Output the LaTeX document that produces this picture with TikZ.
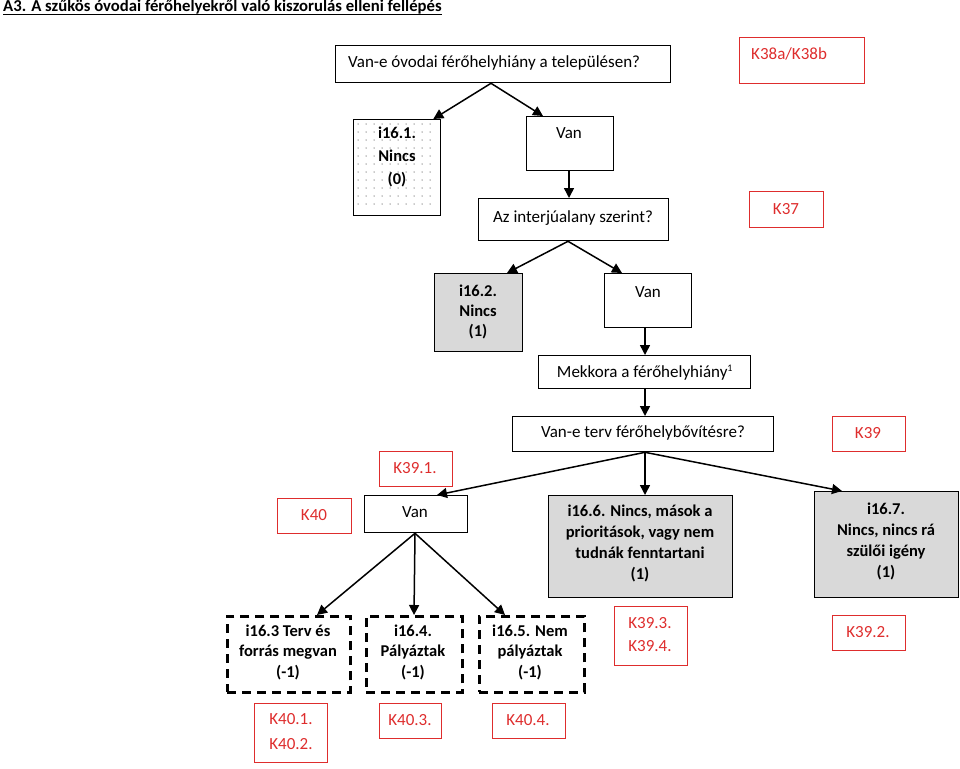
\documentclass[tikz,border=0pt]{standalone}
\usepackage{fontspec}
\setmainfont{Carlito}
\usetikzlibrary{arrows.meta,calc}
\definecolor{kred}{RGB}{222,45,45}
\definecolor{kgray}{RGB}{217,217,217}
\tikzset{
  box/.style={draw=black, line width=1.3pt, inner sep=0pt, anchor=north west},
  gbox/.style={box, fill=kgray},
  rbox/.style={draw=kred, line width=1.4pt, inner sep=0pt, anchor=north west},
  dbox/.style={draw=black, line width=2.6pt, dash pattern=on 9pt off 6pt, inner sep=0pt, anchor=north west},
  txt/.style={inner sep=0pt, align=center, font=\fontsize{17}{21}\selectfont},
  btxt/.style={txt, font=\fontsize{16.5}{21}\selectfont\bfseries},
  rtxt/.style={txt, text=kred},
  arr/.style={line width=1.5pt, -{Triangle[length=10pt,width=10pt]}}
}
\begin{document}
\begin{tikzpicture}[x=1pt,y=-1pt]
\useasboundingbox (0,0) rectangle (960,768);
% title
\node[inner sep=0pt, anchor=base west, font=\fontsize{16.7}{19}\selectfont\bfseries] (title) at (3,12) {A3. A szűkös óvodai férőhelyekről való kiszorulás elleni fellépés};
\draw[line width=1.1pt] ($(title.base west)+(0,2.5)$) -- ($(title.base east)+(0,2.5)$);

% boxes
\node[box, minimum width=335pt, minimum height=37pt] (q1) at (335,45) {};
\node[txt, anchor=west] (q1t) at (348,63) {Van-e óvodai férőhelyhiány a településen?};
\node[rbox, minimum width=125pt, minimum height=46pt] (k38) at (739,37) {};
\node[rtxt, anchor=west] (k38t) at (751,54) {K38a/K38b};

\node[box, minimum width=87pt, minimum height=96pt] (i161) at (353,119) {};
\foreach \xx in {358,366,...,436} {\foreach \yy in {124,132,...,210} {\fill[gray!85] (\xx,\yy) circle (0.75pt);}}
\node[btxt, font=\fontsize{16.5}{23}\selectfont\bfseries] (i161t) at (397,157) {i16.1.\\Nincs\\(0)};

\node[box, minimum width=87pt, minimum height=54pt] (van1) at (526,116) {};
\node[txt] (van1t) at (569,133) {Van};
\node[box, minimum width=190pt, minimum height=42pt] (q2) at (478,198) {};
\node[txt] (q2t) at (573,218) {Az interjúalany szerint?};
\node[rbox, minimum width=74pt, minimum height=36pt] (k37) at (749,191) {};
\node[rtxt] (k37t) at (786,209) {K37};

\node[gbox, minimum width=88pt, minimum height=78pt] (i162) at (434,273) {};
\node[btxt, font=\fontsize{16.5}{20}\selectfont\bfseries] (i162t) at (478,312) {i16.2.\\Nincs\\(1)};
\node[box, minimum width=87pt, minimum height=54pt] (van2) at (604,273) {};
\node[txt] (van2t) at (648,292) {Van};
\node[box, minimum width=212pt, minimum height=33pt] (mek) at (538,355) {};
\node[txt] (mekt) at (645,373) {Mekkora a férőhelyhiány\textsuperscript{\fontsize{10}{10}\selectfont 1}};

\node[box, minimum width=261pt, minimum height=35pt] (q3) at (512,416) {};
\node[txt] (q3t) at (643,433) {Van-e terv férőhelybővítésre?};
\node[rbox, minimum width=73pt, minimum height=35pt] (k39) at (832,416) {};
\node[rtxt] (k39t) at (868,433) {K39};
\node[rbox, minimum width=73pt, minimum height=35pt] (k391) at (379,451) {};
\node[rtxt] (k391t) at (415,468) {K39.1.};
\node[rbox, minimum width=74pt, minimum height=35pt] (k40) at (277,498) {};
\node[rtxt] (k40t) at (314,515) {K40};
\node[box, minimum width=103pt, minimum height=37pt] (van3) at (364,495) {};
\node[txt] (van3t) at (415,512) {Van};
\node[gbox, minimum width=184pt, minimum height=102pt] (i166) at (548,495) {};
\node[btxt] (i166t) at (640,543) {i16.6. Nincs, mások a\\prioritások, vagy nem\\tudnák fenntartani\\(1)};
\node[gbox, minimum width=144pt, minimum height=106pt] (i167) at (814,491) {};
\node[btxt] (i167t) at (886,541) {i16.7.\\Nincs, nincs rá\\szülői igény\\(1)};

\node[dbox, minimum width=123pt, minimum height=76pt] (i163) at (226,615) {};
\node[btxt, font=\fontsize{16.5}{20.5}\selectfont\bfseries] (i163t) at (288,652) {i16.3 Terv és\\forrás megvan\\(-1)};
\node[dbox, minimum width=96pt, minimum height=76pt] (i164) at (365,615) {};
\node[btxt, font=\fontsize{16.5}{20.5}\selectfont\bfseries] (i164t) at (413,652) {i16.4.\\Pályáztak\\(-1)};
\node[dbox, minimum width=105pt, minimum height=76pt] (i165) at (478,615) {};
\node[btxt, font=\fontsize{16.5}{20.5}\selectfont\bfseries] (i165t) at (530,652) {i16.5. Nem\\pályáztak\\(-1)};

\node[rbox, minimum width=73pt, minimum height=59pt] (k401) at (254,703) {};
\node[rtxt, font=\fontsize{17}{25}\selectfont] (k401t) at (291,732) {K40.1.\\K40.2.};
\node[rbox, minimum width=62pt, minimum height=35pt] (k403) at (379,703) {};
\node[rtxt] (k403t) at (410,720) {K40.3.};
\node[rbox, minimum width=73pt, minimum height=35pt] (k404) at (492,703) {};
\node[rtxt] (k404t) at (528,720) {K40.4.};
\node[rbox, minimum width=73pt, minimum height=59pt] (k393) at (614,606) {};
\node[rtxt, font=\fontsize{17}{23}\selectfont] (k393t) at (650,635) {K39.3.\\K39.4.};
\node[rbox, minimum width=73pt, minimum height=35pt] (k392) at (832,615) {};
\node[rtxt] (k392t) at (868,632) {K39.2.};

% connectors
\coordinate (a1) at ($(q1.south west)+(156,0)$);
\draw[arr] (a1) -- ($(i161.north east)+(-8,0)$);
\draw[arr] (a1) -- ($(van1.north west)+(17,0)$);
\draw[arr] ($(van1.south west)+(43,0)$) -- ($(q2.north west)+(91,0)$);
\coordinate (a2) at ($(q2.south west)+(90,0)$);
\draw[arr] (a2) -- ($(i162.north west)+(73,0)$);
\draw[arr] (a2) -- ($(van2.north west)+(18,0)$);
\draw[arr] ($(van2.south west)+(41,0)$) -- ($(mek.north west)+(107,0)$);
\draw[arr] ($(mek.south west)+(107,0)$) -- ($(q3.north west)+(133,0)$);
\coordinate (a3) at ($(q3.south west)+(133,0)$);
\draw[arr] (a3) -- ($(van3.north west)+(73,0)$);
\draw[arr] (a3) -- ($(i166.north west)+(97,0)$);
\draw[arr] (a3) -- ($(i167.north west)+(28,0)$);
\coordinate (a4) at ($(van3.south west)+(51,0)$);
\draw[arr] (a4) -- ($(i163.north west)+(91,0)$);
\draw[arr] (a4) -- ($(i164.north west)+(49,0)$);
\draw[arr] (a4) -- ($(i165.north west)+(27,0)$);
\end{tikzpicture}
\end{document}
